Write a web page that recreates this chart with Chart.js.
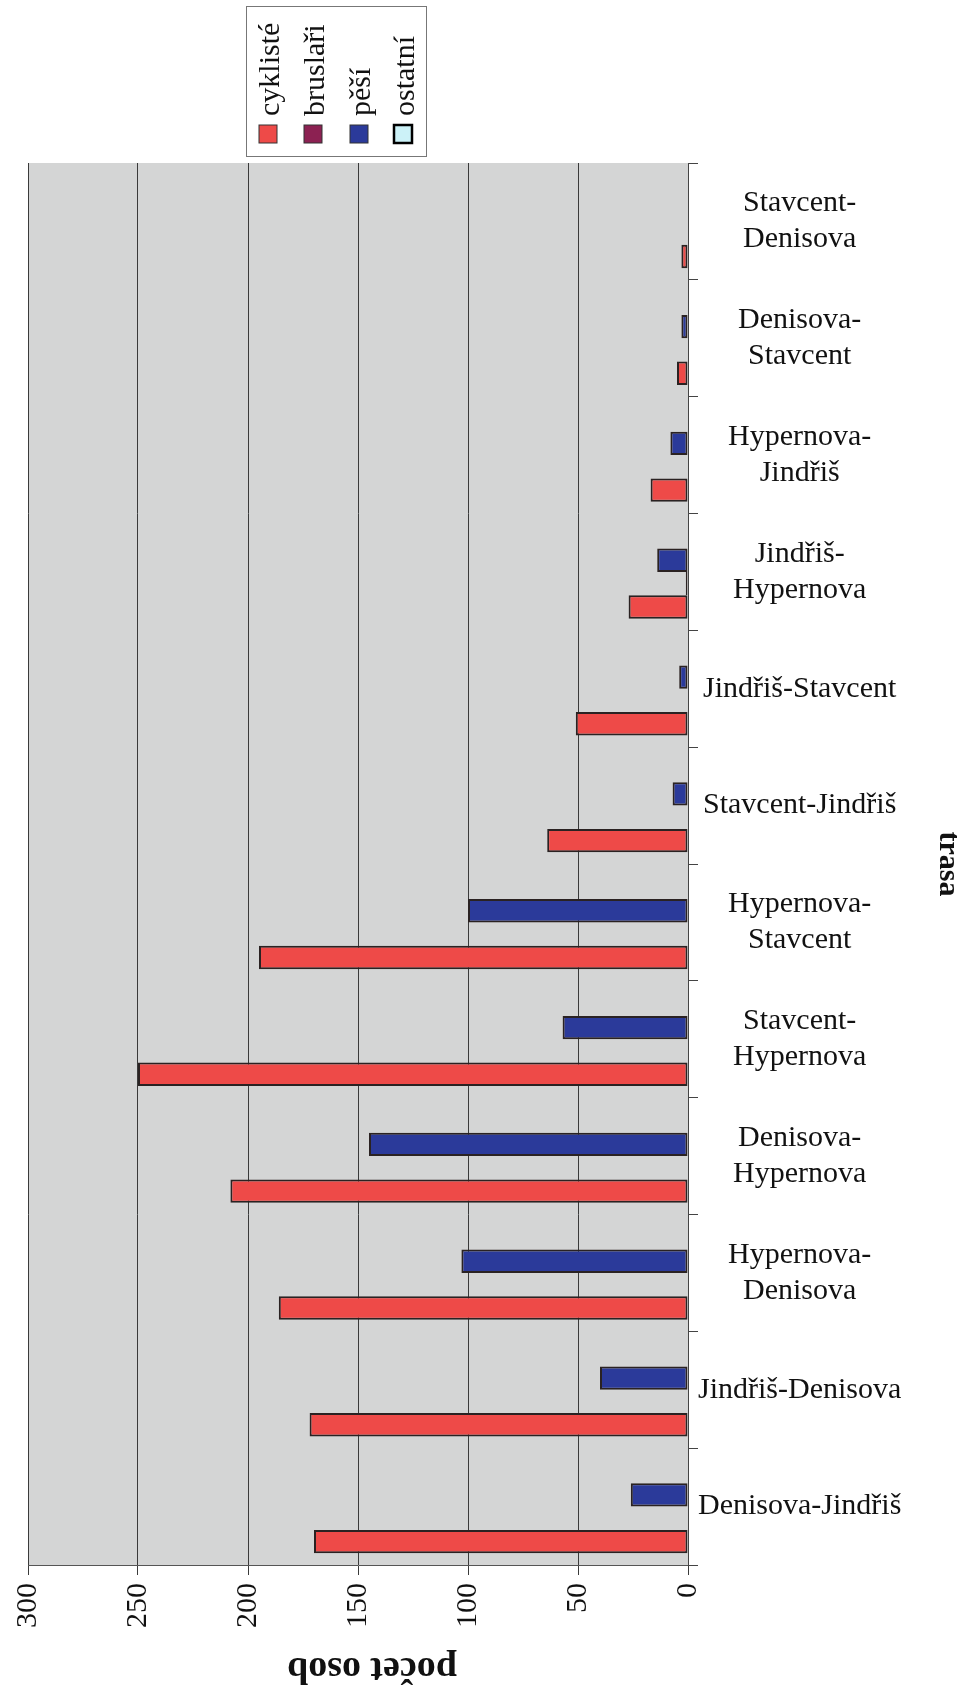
<!DOCTYPE html>
<html lang="cs">
<head>
  <meta charset="UTF-8" />
  <title>počet osob podle trasy</title>
  <style>
    html, body { margin: 0; padding: 0; background: #fff; }
    canvas { display: block; }
  </style>
</head>
<body>
  <canvas id="routeChart" width="966" height="1696"></canvas>

  <script src="https://cdn.jsdelivr.net/npm/chart.js"></script>
  <script>
    // routes, top to bottom as in the picture
    const routes = [
      ['Stavcent-', 'Denisova'],
      ['Denisova-', 'Stavcent'],
      ['Hypernova-', 'Jindřiš'],
      ['Jindřiš-', 'Hypernova'],
      'Jindřiš-Stavcent',
      'Stavcent-Jindřiš',
      ['Hypernova-', 'Stavcent'],
      ['Stavcent-', 'Hypernova'],
      ['Denisova-', 'Hypernova'],
      ['Hypernova-', 'Denisova'],
      'Jindřiš-Denisova',
      'Denisova-Jindřiš'
    ];

    const cyklisteValues = [3, 5, 17, 27, 51, 64, 195, 250, 208, 186, 172, 170];
    const bruslariValues = [0, 0, 0, 1, 0, 0, 0, 0, 0, 0, 0, 0];
    const pesiValues = [0, 3, 8, 14, 4, 7, 100, 57, 145, 103, 40, 26];
    const ostatniValues = [0, 0, 0, 0, 0, 0, 0, 0, 0, 0, 0, 0];

    const seriesNames = ['cyklisté', 'bruslaři', 'pěší', 'ostatní'];
    const seriesColors = ['#ee4a48', '#8c2152', '#2b3a9a', '#ccf2f8'];

    const xTicks = [0, 50, 100, 150, 200, 250, 300];

    const serif = '"Liberation Serif", "DejaVu Serif", serif';

    function makeSet(i, values) {
      return {
        label: seriesNames[i],
        data: values,
        backgroundColor: seriesColors[i],
        borderColor: '#2a2222',
        borderWidth: 2,
        borderSkipped: false
      };
    }

    // grey plot background
    const plotBg = {
      id: 'plotBg',
      beforeDraw(chart) {
        const a = chart.chartArea;
        const ctx = chart.ctx;
        ctx.save();
        ctx.fillStyle = '#d4d5d5';
        ctx.fillRect(a.left, a.top, a.right - a.left, a.bottom - a.top);
        ctx.restore();
      }
    };

    // rotated legend box at the top and upside-down value axis title
    const extras = {
      id: 'extras',
      afterDraw(chart) {
        const ctx = chart.ctx;
        const a = chart.chartArea;
        ctx.save();

        ctx.fillStyle = '#fff';
        ctx.strokeStyle = '#777';
        ctx.lineWidth = 1;
        ctx.fillRect(246, 6, 180, 150);
        ctx.strokeRect(246.5, 6.5, 180, 150);

        const cols = [268, 313, 359, 403];
        ctx.font = '30px ' + serif;
        ctx.textBaseline = 'middle';
        ctx.textAlign = 'left';
        seriesNames.forEach((name, i) => {
          const cx = cols[i];
          ctx.fillStyle = seriesColors[i];
          ctx.fillRect(cx - 9, 125, 18, 18);
          ctx.strokeStyle = i === 3 ? '#000' : '#333';
          ctx.lineWidth = i === 3 ? 2.5 : 1;
          ctx.strokeRect(cx - 9, 125, 18, 18);
          ctx.save();
          ctx.translate(cx + 3, 116);
          ctx.rotate(-Math.PI / 2);
          ctx.fillStyle = '#111';
          ctx.fillText(name, 0, 0);
          ctx.restore();
        });

        ctx.save();
        ctx.translate((a.left + a.right) / 2 + 14, 1668);
        ctx.rotate(Math.PI);
        ctx.font = 'bold 38px ' + serif;
        ctx.fillStyle = '#111';
        ctx.textAlign = 'center';
        ctx.textBaseline = 'middle';
        ctx.fillText('počet osob', 0, 0);
        ctx.restore();

        ctx.restore();
      }
    };

    new Chart(document.getElementById('routeChart'), {
      type: 'bar',
      data: {
        labels: routes,
        // reverse order so cyklisté sits lowest in each band
        datasets: [
          makeSet(3, ostatniValues),
          makeSet(2, pesiValues),
          makeSet(1, bruslariValues),
          makeSet(0, cyklisteValues)
        ]
      },
      options: {
        indexAxis: 'y',
        responsive: false,
        animation: false,
        layout: { padding: { top: 163, left: 28, right: 0, bottom: 0 } },
        datasets: {
          bar: { categoryPercentage: 0.8, barPercentage: 1.0 }
        },
        plugins: {
          legend: { display: false },
          tooltip: { enabled: false }
        },
        scales: {
          x: {
            reverse: true,
            min: 0,
            max: 300,
            afterFit(s) { s.height = 131; },
            afterBuildTicks(s) { s.ticks = xTicks.map(v => ({ value: v })); },
            grid: { color: '#3a3a3a', lineWidth: 1, tickLength: 10 },
            border: { color: '#555' },
            ticks: {
              minRotation: 90,
              maxRotation: 90,
              padding: 8,
              color: '#111',
              font: { family: serif, size: 30 }
            }
          },
          y: {
            position: 'right',
            offset: true,
            afterFit(s) { s.width = 278; },
            grid: { offset: true, drawOnChartArea: false, color: '#444', tickLength: 10 },
            border: { color: '#444' },
            ticks: {
              crossAlign: 'center',
              padding: 0,
              color: '#111',
              font: { family: serif, size: 30, lineHeight: 1.2 }
            },
            title: {
              display: true,
              text: 'trasa',
              color: '#111',
              padding: 0,
              font: { family: serif, size: 30, weight: 'bold' }
            }
          }
        }
      },
      plugins: [plotBg, extras]
    });
  </script>
</body>
</html>
